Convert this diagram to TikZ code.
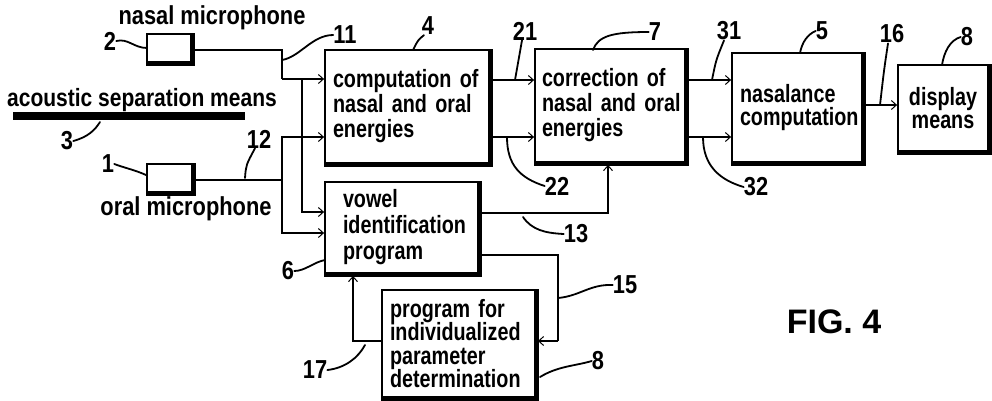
\documentclass[tikz,border=0pt]{standalone}
\usepackage{fontspec}
\newfontfamily\boxfont{Liberation Sans}[FakeStretch=0.79]
\newfontfamily\labfont{Liberation Sans}[FakeStretch=0.84]
\newfontfamily\figfont{Liberation Sans}
\usetikzlibrary{arrows.meta}
\begin{document}
\begin{tikzpicture}[x=1pt,y=-1pt,
  conn/.style={line width=2.2pt},
  arr/.style={-{Straight Barb[length=5pt,width=9pt,line width=1pt]}},
  blk/.style={draw, line width=1.8pt, inner ysep=0pt, align=left,
    font=\boxfont\bfseries\fontsize{25}{25}\selectfont},
  mic/.style={draw, line width=1.8pt, inner sep=0pt},
  lab/.style={font=\labfont\bfseries\fontsize{26}{26}\selectfont, inner sep=0pt},
  lead/.style={line width=1.8pt, line cap=round},
  shad/.style={line width=3.5pt}]
\useasboundingbox (0,0) rectangle (992,400);

% boxes
\node[blk, minimum width=164pt, minimum height=113pt, text width=148pt, inner xsep=8pt] (b4) at (407,106.5)
  {\mbox{computation of}\\\mbox{nasal and oral}\\energies};
\node[blk, minimum width=150pt, minimum height=113pt, text width=136pt, inner xsep=7pt] (b7) at (610,105.5)
  {\mbox{correction of}\\\mbox{nasal and oral}\\energies};
\node[blk, minimum width=130pt, minimum height=109pt, text width=114pt, inner xsep=8pt,
  font=\boxfont\bfseries\fontsize{25}{23}\selectfont] (b5) at (797,107.5)
  {\mbox{nasalance}\\\mbox{computation}};
\node[blk, minimum width=90pt, minimum height=86pt, text width=80pt, inner xsep=5pt, align=center,
  font=\boxfont\bfseries\fontsize{25}{23}\selectfont] (b8) at (943,108)
  {\mbox{display}\\\mbox{means}};
\node[blk, minimum width=153pt, minimum height=91pt, text width=117pt, inner xsep=18pt,
  font=\boxfont\bfseries\fontsize{25}{26}\selectfont] (b6) at (401.5,227.5)
  {vowel\\\mbox{identification}\\program};
\node[blk, minimum width=153pt, minimum height=107pt, text width=137pt, inner xsep=8pt,
  font=\boxfont\bfseries\fontsize{25}{23.5}\selectfont] (b9) at (458.5,343.5)
  {\mbox{program for}\\\mbox{individualized}\\parameter\\\mbox{determination}};
\node[mic, minimum width=44pt, minimum height=28pt] (nm) at (169,48) {};
\node[mic, minimum width=45pt, minimum height=28pt] (om) at (169.5,178) {};
\node[fill, minimum width=232pt, minimum height=8pt, inner sep=0pt] (bar) at (129,116) {};

% shadows on right and bottom edges
\foreach \b in {b4,b7,b5,b8,b6,b9,nm,om}{
  \draw[shad] ([xshift=1pt]\b.north east) -- ([xshift=1pt,yshift=-1pt]\b.south east) -- ([yshift=-1pt]\b.south west);
}

% connectors
\coordinate (nA) at (282,79);
\coordinate (nB) at (302,79);
\coordinate (oA) at (282,180);
\coordinate (k15) at (558,341);
\draw[conn] ([yshift=-2pt]nm.east) -| (nA);
\draw[conn,arr] (nA) -- (nA -| b4.west);
\draw[conn,arr] (nB) |- (b6.west |- 0,212);
\draw[conn] ([yshift=-2pt]om.east) -- (oA);
\draw[conn,arr] (oA) |- (b4.west |- 0,137);
\draw[conn,arr] (oA) |- (b6.west |- 0,233);
\draw[conn,arr] (b4.east |- 0,80) -- (b7.west |- 0,80);
\draw[conn,arr] (b4.east |- 0,137) -- (b7.west |- 0,137);
\draw[conn,arr] (b7.east |- 0,80) -- (b5.west |- 0,80);
\draw[conn,arr] (b7.east |- 0,137) -- (b5.west |- 0,137);
\draw[conn,arr] (b5.east |- 0,105) -- (b8.west |- 0,105);
\draw[conn,arr] (b6.east |- 0,213) -| ([yshift=-2pt]b7.south -| 608,0);
\draw[conn] (b6.east |- 0,255) -| (k15);
\draw[conn,arr] (k15) -- ([xshift=2pt]b9.east |- k15);
\draw[conn,arr] (b9.west |- 0,341) -| ([yshift=-2pt]b6.south -| 353,0);

% texts
\node[lab] (tnm) at (212,18) {nasal microphone};
\node[lab, font=\labfont\bfseries\fontsize{25}{26}\selectfont] (tas) at (142,100) {acoustic separation means};
\node[lab] (tom) at (186,209) {oral microphone};
\node[font=\figfont\bfseries\fontsize{34}{36}\selectfont, inner sep=0pt] (fig) at (834,322) {FIG. 4};

% reference numerals and leaders
\node[lab] (t2) at (110,41) {2};
\coordinate (e2) at (147,48);
\draw[lead] (t2.east) .. controls (128,38) and (134,48) .. (e2);

\node[lab] (t11) at (345,35) {11};
\coordinate (e11) at (282,60);
\draw[lead] (t11.west) .. controls (312,35) and (300,57) .. (e11);

\node[lab] (t4) at (428,26) {4};
\coordinate (e4) at (413,50);
\draw[lead] ([xshift=-4pt]t4.south) .. controls (418,40) .. (e4);

\node[lab] (t21) at (525,31) {21};
\coordinate (e21) at (515,80);
\draw[lead] ([xshift=-3pt]t21.south) .. controls (519,60) .. (e21);

\node[lab] (t7) at (655,32) {7};
\coordinate (e7) at (593,50);
\draw[lead] (t7.west) .. controls (612,32) and (598,36) .. (e7);

\node[lab] (t31) at (729,31) {31};
\coordinate (e31) at (712,80);
\draw[lead] ([xshift=-5pt]t31.south) .. controls (716,60) .. (e31);

\node[lab] (t5) at (822,31) {5};
\coordinate (e5) at (800,53);
\draw[lead] (t5.west) .. controls (808,34) and (802,42) .. (e5);

\node[lab] (t16) at (892,34) {16};
\coordinate (e16) at (880,105);
\draw[lead] ([xshift=-4pt]t16.south) .. controls (884,70) .. (e16);

\node[lab] (t8a) at (967,37) {8};
\coordinate (e8a) at (942,65);
\draw[lead] (t8a.west) .. controls (950,40) and (944,52) .. (e8a);

\node[lab] (t22) at (557,186) {22};
\coordinate (e22) at (507,137);
\draw[lead] (e22) .. controls (507,165) and (520,178) .. (t22.west);

\node[lab] (t13) at (576,234) {13};
\coordinate (e13) at (523,217);
\draw[lead] (e13) .. controls (532,230) and (545,233) .. (t13.west);

\node[lab] (t32) at (756,187) {32};
\coordinate (e32) at (703,137);
\draw[lead] (e32) .. controls (703,166) and (720,180) .. (t32.west);

\node[lab] (t15) at (625,285) {15};
\coordinate (e15) at (558,298);
\draw[lead] (e15) .. controls (580,296) and (590,284) .. (t15.west);

\node[lab] (t8b) at (598,361) {8};
\coordinate (e8b) at (540,377);
\draw[lead] (e8b) .. controls (558,366) and (575,366) .. (t8b.west);

\node[lab] (t17) at (315,370) {17};
\coordinate (e17) at (365,345);
\draw[lead] (t17.east) .. controls (345,368) and (358,358) .. (e17);

\node[lab] (t6) at (288,271) {6};
\coordinate (e6) at (325,260);
\draw[lead] (t6.east) .. controls (305,271) and (314,262) .. (e6);

\node[lab] (t12) at (259,139) {12};
\coordinate (e12) at (245,178);
\draw[lead] (e12) .. controls (246,165) .. ([xshift=-4pt]t12.south);

\node[lab] (t3) at (67,141) {3};
\coordinate (e3) at (100,122);
\draw[lead] (t3.east) .. controls (88,137) and (95,130) .. (e3);

\node[lab] (t1) at (108,164) {1};
\coordinate (e1) at (146,175);
\draw[lead] (t1.east) .. controls (125,168) and (135,170) .. (e1);
\end{tikzpicture}
\end{document}
